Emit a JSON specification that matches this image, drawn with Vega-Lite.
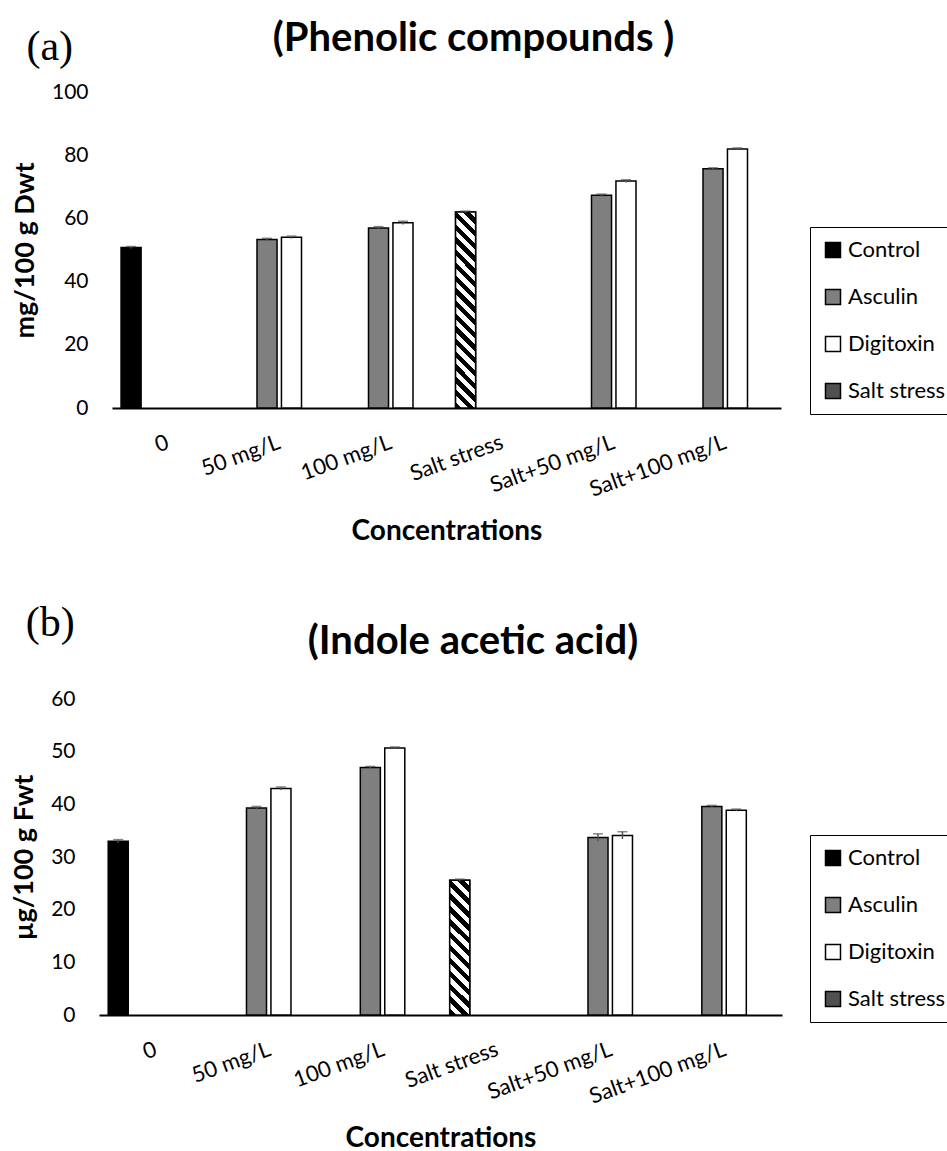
{
  "$schema": "https://vega.github.io/schema/vega-lite/v6.json",
  "background": "white",
  "padding": {"left": 10, "top": 19, "right": 0, "bottom": 0},
  "config": {
    "view": {"stroke": null},
    "font": "Lato",
    "axis": {"labelFont": "Lato", "titleFont": "Lato", "labelColor": "black", "titleColor": "black", "grid": false},
    "title": {"font": "Lato", "color": "black"},
    "legend": {"labelFont": "Lato", "labelColor": "black"}
  },
  "spacing": 56,
  "resolve": {"legend": {"fill": "independent"}},
  "vconcat": [
    {
      "title": {"text": "(a)", "anchor": "start", "frame": "bounds", "font": "Liberation Serif", "fontSize": 42, "fontWeight": "normal", "offset": -50, "dx": 15},
      "vconcat": [
        {
          "title": {"text": "(Phenolic compounds )", "fontSize": 40, "fontWeight": "bold", "anchor": "middle", "dx": 27, "offset": 22},
          "width": 669,
          "height": 316,
          "data": {"values": [
            {"conc": "0", "series": "Control", "treatment": "Control", "value": 50.8, "low": 50.5, "high": 51.1},
            {"conc": "50 mg/L", "series": "Asculin", "treatment": "Asculin", "value": 53.3, "low": 52.9, "high": 53.7},
            {"conc": "50 mg/L", "series": "Digitoxin", "treatment": "Digitoxin", "value": 54.0, "low": 53.6, "high": 54.4},
            {"conc": "100 mg/L", "series": "Asculin", "treatment": "Asculin", "value": 57.0, "low": 56.6, "high": 57.4},
            {"conc": "100 mg/L", "series": "Digitoxin", "treatment": "Digitoxin", "value": 58.6, "low": 58.1, "high": 59.1},
            {"conc": "Salt stress", "series": "Control", "treatment": "Salt stress", "value": 62.0, "low": 61.7, "high": 62.3},
            {"conc": "Salt+50 mg/L", "series": "Asculin", "treatment": "Asculin", "value": 67.3, "low": 66.9, "high": 67.7},
            {"conc": "Salt+50 mg/L", "series": "Digitoxin", "treatment": "Digitoxin", "value": 71.8, "low": 71.4, "high": 72.2},
            {"conc": "Salt+100 mg/L", "series": "Asculin", "treatment": "Asculin", "value": 75.7, "low": 75.4, "high": 76.0},
            {"conc": "Salt+100 mg/L", "series": "Digitoxin", "treatment": "Digitoxin", "value": 82.0, "low": 81.7, "high": 82.3}
          ]},
          "encoding": {
            "x": {"field": "conc", "type": "nominal",
              "sort": ["0", "50 mg/L", "100 mg/L", "Salt stress", "Salt+50 mg/L", "Salt+100 mg/L"],
              "scale": {"paddingInner": 0.123, "paddingOuter": 0.0615},
              "axis": {"title": "Concentrations", "titleFontSize": 28, "titleFontWeight": "bold", "titlePadding": 17,
                "labelAngle": -20, "labelAlign": "right", "labelBaseline": "middle", "labelFontSize": 22, "labelPadding": 33,
                "ticks": false, "domainColor": "black", "domainWidth": 2}},
            "xOffset": {"field": "series", "type": "nominal",
              "scale": {"domain": ["Control", "Asculin", "Digitoxin", "Salt stress"], "paddingInner": 0.18, "paddingOuter": 0.09}}
          },
          "layer": [
            {
              "mark": {"type": "bar", "stroke": "black", "strokeWidth": 1.5},
              "encoding": {
                "y": {"field": "value", "type": "quantitative",
                  "scale": {"domain": [0, 100]},
                  "axis": {"title": "mg/100 g Dwt", "titleFontSize": 27, "titleFontWeight": "bold", "titlePadding": 12,
                    "values": [0, 20, 40, 60, 80, 100], "labelFontSize": 21, "labelPadding": 24, "ticks": false, "domain": false}},
                "fill": {"field": "treatment", "type": "nominal",
                  "scale": {"domain": ["Control", "Asculin", "Digitoxin", "Salt stress"],
                    "range": ["#000000", "#7f7f7f", "#ffffff", "#505050"]},
                  "legend": {"title": null, "orient": "none", "legendX": 698, "legendY": 135,
                    "strokeColor": "black", "fillColor": "white", "padding": 12, "rowPadding": 25,
                    "labelFontSize": 22, "labelOffset": 4, "symbolType": "square", "symbolSize": 225,
                    "symbolStrokeColor": "black", "symbolStrokeWidth": 1.5, "symbolOpacity": 1}}
              }
            },
            {
              "transform": [{"filter": "datum.treatment === 'Salt stress'"}],
              "mark": {"type": "bar", "stroke": "black", "strokeWidth": 1.5,
                "fill": {"gradient": "linear", "x1": 0, "y1": 1, "x2": 0.112, "y2": -0.091, "stops": [
                  {"offset": 0, "color": "black"}, {"offset": 0.0294, "color": "black"}, {"offset": 0.0294, "color": "white"}, {"offset": 0.0588, "color": "white"},
                  {"offset": 0.0588, "color": "black"}, {"offset": 0.0882, "color": "black"}, {"offset": 0.0882, "color": "white"}, {"offset": 0.1176, "color": "white"},
                  {"offset": 0.1176, "color": "black"}, {"offset": 0.1471, "color": "black"}, {"offset": 0.1471, "color": "white"}, {"offset": 0.1765, "color": "white"},
                  {"offset": 0.1765, "color": "black"}, {"offset": 0.2059, "color": "black"}, {"offset": 0.2059, "color": "white"}, {"offset": 0.2353, "color": "white"},
                  {"offset": 0.2353, "color": "black"}, {"offset": 0.2647, "color": "black"}, {"offset": 0.2647, "color": "white"}, {"offset": 0.2941, "color": "white"},
                  {"offset": 0.2941, "color": "black"}, {"offset": 0.3235, "color": "black"}, {"offset": 0.3235, "color": "white"}, {"offset": 0.3529, "color": "white"},
                  {"offset": 0.3529, "color": "black"}, {"offset": 0.3824, "color": "black"}, {"offset": 0.3824, "color": "white"}, {"offset": 0.4118, "color": "white"},
                  {"offset": 0.4118, "color": "black"}, {"offset": 0.4412, "color": "black"}, {"offset": 0.4412, "color": "white"}, {"offset": 0.4706, "color": "white"},
                  {"offset": 0.4706, "color": "black"}, {"offset": 0.5, "color": "black"}, {"offset": 0.5, "color": "white"}, {"offset": 0.5294, "color": "white"},
                  {"offset": 0.5294, "color": "black"}, {"offset": 0.5588, "color": "black"}, {"offset": 0.5588, "color": "white"}, {"offset": 0.5882, "color": "white"},
                  {"offset": 0.5882, "color": "black"}, {"offset": 0.6176, "color": "black"}, {"offset": 0.6176, "color": "white"}, {"offset": 0.6471, "color": "white"},
                  {"offset": 0.6471, "color": "black"}, {"offset": 0.6765, "color": "black"}, {"offset": 0.6765, "color": "white"}, {"offset": 0.7059, "color": "white"},
                  {"offset": 0.7059, "color": "black"}, {"offset": 0.7353, "color": "black"}, {"offset": 0.7353, "color": "white"}, {"offset": 0.7647, "color": "white"},
                  {"offset": 0.7647, "color": "black"}, {"offset": 0.7941, "color": "black"}, {"offset": 0.7941, "color": "white"}, {"offset": 0.8235, "color": "white"},
                  {"offset": 0.8235, "color": "black"}, {"offset": 0.8529, "color": "black"}, {"offset": 0.8529, "color": "white"}, {"offset": 0.8824, "color": "white"},
                  {"offset": 0.8824, "color": "black"}, {"offset": 0.9118, "color": "black"}, {"offset": 0.9118, "color": "white"}, {"offset": 0.9412, "color": "white"},
                  {"offset": 0.9412, "color": "black"}, {"offset": 0.9706, "color": "black"}, {"offset": 0.9706, "color": "white"}, {"offset": 1, "color": "white"}
                ]}},
              "encoding": {"y": {"field": "value", "type": "quantitative"}}
            },
            {
              "mark": {"type": "rule", "color": "#555555", "strokeWidth": 1.5},
              "encoding": {"y": {"field": "low", "type": "quantitative"}, "y2": {"field": "high"}}
            },
            {
              "mark": {"type": "tick", "color": "#555555", "thickness": 1.5, "size": 10, "orient": "horizontal"},
              "encoding": {"y": {"field": "high", "type": "quantitative"}}
            }
          ]
        }
      ]
    },
    {
      "title": {"text": "(b)", "anchor": "start", "frame": "bounds", "font": "Liberation Serif", "fontSize": 42, "fontWeight": "normal", "offset": -23, "dx": 15},
      "vconcat": [
        {
          "title": {"text": "(Indole acetic acid)", "fontSize": 40, "fontWeight": "bold", "anchor": "middle", "dx": 26, "offset": 26},
          "width": 670,
          "height": 316,
          "data": {"values": [
            {"conc": "0", "series": "Control", "treatment": "Control", "value": 33.0, "low": 32.7, "high": 33.3},
            {"conc": "50 mg/L", "series": "Asculin", "treatment": "Asculin", "value": 39.3, "low": 39.0, "high": 39.6},
            {"conc": "50 mg/L", "series": "Digitoxin", "treatment": "Digitoxin", "value": 43.0, "low": 42.7, "high": 43.3},
            {"conc": "100 mg/L", "series": "Asculin", "treatment": "Asculin", "value": 47.0, "low": 46.8, "high": 47.2},
            {"conc": "100 mg/L", "series": "Digitoxin", "treatment": "Digitoxin", "value": 50.7, "low": 50.5, "high": 50.9},
            {"conc": "Salt stress", "series": "Control", "treatment": "Salt stress", "value": 25.6, "low": 25.4, "high": 25.8},
            {"conc": "Salt+50 mg/L", "series": "Asculin", "treatment": "Asculin", "value": 33.7, "low": 33.0, "high": 34.4},
            {"conc": "Salt+50 mg/L", "series": "Digitoxin", "treatment": "Digitoxin", "value": 34.1, "low": 33.4, "high": 34.8},
            {"conc": "Salt+100 mg/L", "series": "Asculin", "treatment": "Asculin", "value": 39.6, "low": 39.4, "high": 39.8},
            {"conc": "Salt+100 mg/L", "series": "Digitoxin", "treatment": "Digitoxin", "value": 38.9, "low": 38.7, "high": 39.1}
          ]},
          "encoding": {
            "x": {"field": "conc", "type": "nominal",
              "sort": ["0", "50 mg/L", "100 mg/L", "Salt stress", "Salt+50 mg/L", "Salt+100 mg/L"],
              "scale": {"range": [-13, 670], "paddingInner": 0.123, "paddingOuter": 0.0615},
              "axis": {"title": "Concentrations", "titleFontSize": 28, "titleFontWeight": "bold", "titlePadding": 17,
                "labelAngle": -20, "labelAlign": "right", "labelBaseline": "middle", "labelFontSize": 22, "labelPadding": 33,
                "ticks": false, "domainColor": "black", "domainWidth": 2}},
            "xOffset": {"field": "series", "type": "nominal",
              "scale": {"domain": ["Control", "Asculin", "Digitoxin", "Salt stress"], "paddingInner": 0.18, "paddingOuter": 0.09}}
          },
          "layer": [
            {
              "mark": {"type": "bar", "stroke": "black", "strokeWidth": 1.5},
              "encoding": {
                "y": {"field": "value", "type": "quantitative",
                  "scale": {"domain": [0, 60]},
                  "axis": {"title": "µg/100 g Fwt", "titleFontSize": 27, "titleFontWeight": "bold", "titlePadding": 12,
                    "values": [0, 10, 20, 30, 40, 50, 60], "labelFontSize": 21, "labelPadding": 37, "ticks": false, "domain": false}},
                "fill": {"field": "treatment", "type": "nominal",
                  "scale": {"domain": ["Control", "Asculin", "Digitoxin", "Salt stress"],
                    "range": ["#000000", "#7f7f7f", "#ffffff", "#505050"]},
                  "legend": {"title": null, "orient": "none", "legendX": 698, "legendY": 136,
                    "strokeColor": "black", "fillColor": "white", "padding": 12, "rowPadding": 25,
                    "labelFontSize": 22, "labelOffset": 4, "symbolType": "square", "symbolSize": 225,
                    "symbolStrokeColor": "black", "symbolStrokeWidth": 1.5, "symbolOpacity": 1}}
              }
            },
            {
              "transform": [{"filter": "datum.treatment === 'Salt stress'"}],
              "mark": {"type": "bar", "stroke": "black", "strokeWidth": 1.5,
                "fill": {"gradient": "linear", "x1": 0, "y1": 1, "x2": 0.166, "y2": -0.123, "stops": [
                  {"offset": 0, "color": "black"}, {"offset": 0.0417, "color": "black"}, {"offset": 0.0417, "color": "white"}, {"offset": 0.0833, "color": "white"},
                  {"offset": 0.0833, "color": "black"}, {"offset": 0.125, "color": "black"}, {"offset": 0.125, "color": "white"}, {"offset": 0.1667, "color": "white"},
                  {"offset": 0.1667, "color": "black"}, {"offset": 0.2083, "color": "black"}, {"offset": 0.2083, "color": "white"}, {"offset": 0.25, "color": "white"},
                  {"offset": 0.25, "color": "black"}, {"offset": 0.2917, "color": "black"}, {"offset": 0.2917, "color": "white"}, {"offset": 0.3333, "color": "white"},
                  {"offset": 0.3333, "color": "black"}, {"offset": 0.375, "color": "black"}, {"offset": 0.375, "color": "white"}, {"offset": 0.4167, "color": "white"},
                  {"offset": 0.4167, "color": "black"}, {"offset": 0.4583, "color": "black"}, {"offset": 0.4583, "color": "white"}, {"offset": 0.5, "color": "white"},
                  {"offset": 0.5, "color": "black"}, {"offset": 0.5417, "color": "black"}, {"offset": 0.5417, "color": "white"}, {"offset": 0.5833, "color": "white"},
                  {"offset": 0.5833, "color": "black"}, {"offset": 0.625, "color": "black"}, {"offset": 0.625, "color": "white"}, {"offset": 0.6667, "color": "white"},
                  {"offset": 0.6667, "color": "black"}, {"offset": 0.7083, "color": "black"}, {"offset": 0.7083, "color": "white"}, {"offset": 0.75, "color": "white"},
                  {"offset": 0.75, "color": "black"}, {"offset": 0.7917, "color": "black"}, {"offset": 0.7917, "color": "white"}, {"offset": 0.8333, "color": "white"},
                  {"offset": 0.8333, "color": "black"}, {"offset": 0.875, "color": "black"}, {"offset": 0.875, "color": "white"}, {"offset": 0.9167, "color": "white"},
                  {"offset": 0.9167, "color": "black"}, {"offset": 0.9583, "color": "black"}, {"offset": 0.9583, "color": "white"}, {"offset": 1, "color": "white"}
                ]}},
              "encoding": {"y": {"field": "value", "type": "quantitative"}}
            },
            {
              "mark": {"type": "rule", "color": "#555555", "strokeWidth": 1.5},
              "encoding": {"y": {"field": "low", "type": "quantitative"}, "y2": {"field": "high"}}
            },
            {
              "mark": {"type": "tick", "color": "#555555", "thickness": 1.5, "size": 10, "orient": "horizontal"},
              "encoding": {"y": {"field": "high", "type": "quantitative"}}
            }
          ]
        }
      ]
    }
  ]
}
